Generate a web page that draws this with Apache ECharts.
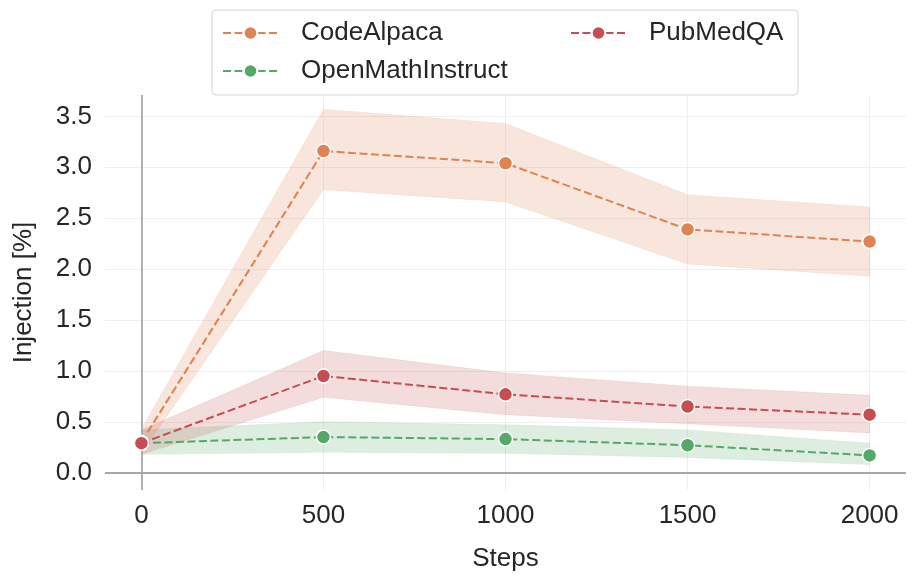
<!DOCTYPE html>
<html>
<head>
<meta charset="utf-8">
<script src="https://cdn.jsdelivr.net/npm/echarts@6/dist/echarts.min.js"></script>
<style>html,body{margin:0;padding:0;background:#fff}#c{width:914px;height:585px}</style>
</head>
<body>
<div id="c"></div>
<script>
var steps = [0, 500, 1000, 1500, 2000];
var xTicks = [0, 500, 1000, 1500, 2000];
var yTicks = [0, 0.5, 1.0, 1.5, 2.0, 2.5, 3.0, 3.5];

var codeMean = [0.30, 3.16, 3.04, 2.39, 2.27];
var codeLow  = [0.19, 2.78, 2.66, 2.05, 1.93];
var codeHigh = [0.43, 3.57, 3.43, 2.73, 2.61];

var mathMean = [0.29, 0.35, 0.33, 0.27, 0.17];
var mathLow  = [0.18, 0.20, 0.19, 0.15, 0.08];
var mathHigh = [0.42, 0.50, 0.47, 0.42, 0.29];

var pubMean = [0.29, 0.95, 0.77, 0.65, 0.57];
var pubLow  = [0.18, 0.74, 0.57, 0.48, 0.39];
var pubHigh = [0.42, 1.20, 0.98, 0.85, 0.76];

var FONT = 'Liberation Sans';
var FS = 26;
var TXT = '#262626';
var C_CODE = '#dd8452', C_MATH = '#55a868', C_PUB = '#c44e52';

function pairs(ys) { return steps.map(function (x, i) { return [x, ys[i]]; }); }

function bandSeries(lo, hi, color) {
  return {
    type: 'custom', silent: true, z: 1,
    data: [[steps[0], lo[0]]],
    renderItem: function (params, api) {
      var pts = [];
      for (var i = 0; i < steps.length; i++) pts.push(api.coord([steps[i], hi[i]]));
      for (var j = steps.length - 1; j >= 0; j--) pts.push(api.coord([steps[j], lo[j]]));
      return { type: 'polygon', shape: { points: pts },
        style: { fill: color, opacity: 0.2, stroke: color, lineWidth: 0.5 } };
    }
  };
}
function meanSeries(name, ys, color) {
  return { name: name, type: 'line', data: pairs(ys), symbol: 'circle', symbolSize: 14,
    itemStyle: { color: color, borderColor: '#fff', borderWidth: 1.5 },
    lineStyle: { color: color, width: 2, type: [8, 3.5] }, z: 5 };
}

var guides = {
  type: 'line', data: [], silent: true, z: 2,
  markLine: {
    silent: true, symbol: 'none', label: { show: false }, animation: false,
    lineStyle: { color: '#a8a8a8', width: 1.8, type: 'solid' },
    data: [{ yAxis: 0 }, { xAxis: 0 }]
  }
};

var series = [
  bandSeries(codeLow, codeHigh, C_CODE),
  bandSeries(mathLow, mathHigh, C_MATH),
  bandSeries(pubLow, pubHigh, C_PUB),
  guides,
  meanSeries('CodeAlpaca', codeMean, C_CODE),
  meanSeries('OpenMathInstruct', mathMean, C_MATH),
  meanSeries('PubMedQA', pubMean, C_PUB)
];

function legend(name, left, top) {
  return { data: [name], left: left, top: top, padding: 0, z: 10,
    itemWidth: 55, itemHeight: 17, selectedMode: false,
    lineStyle: { type: [8, 3.5], width: 2 },
    textStyle: { fontFamily: FONT, fontSize: FS, color: TXT, padding: [0, 0, 0, 18] } };
}

var chart = echarts.init(document.getElementById('c'));
chart.setOption({
  animation: false,
  backgroundColor: '#fff',
  grid: { left: 105, right: 8, top: 95, bottom: 95, containLabel: false },
  graphic: [{ type: 'rect', z: 0, shape: { x: 212, y: 10, width: 586, height: 85, r: 4 },
    style: { fill: '#fff', stroke: '#d4d4d4', lineWidth: 1 } }],
  legend: [legend('CodeAlpaca', 222, 20), legend('PubMedQA', 570, 20), legend('OpenMathInstruct', 222, 58)],
  xAxis: {
    type: 'value', min: -100, max: 2100,
    name: 'Steps', nameLocation: 'middle', nameGap: 56,
    nameTextStyle: { fontFamily: FONT, fontSize: FS, color: TXT },
    axisLine: { show: false },
    axisTick: { show: false, customValues: xTicks },
    axisLabel: { customValues: xTicks, fontFamily: FONT, fontSize: FS, color: TXT, margin: 13,
      formatter: function (v) { return String(v); } },
    splitLine: { show: true, lineStyle: { color: '#efefef', width: 1 } }
  },
  yAxis: {
    type: 'value', min: -0.17, max: 3.71,
    name: 'Injection [%]', nameLocation: 'middle', nameGap: 68,
    nameTextStyle: { fontFamily: FONT, fontSize: FS, color: TXT },
    axisLine: { show: false },
    axisTick: { show: false, customValues: yTicks },
    axisLabel: { customValues: yTicks, fontFamily: FONT, fontSize: FS, color: TXT, margin: 13,
      formatter: function (v) { return v.toFixed(1); } },
    splitLine: { show: true, lineStyle: { color: '#efefef', width: 1 } }
  },
  series: series
});
</script>
</body>
</html>
